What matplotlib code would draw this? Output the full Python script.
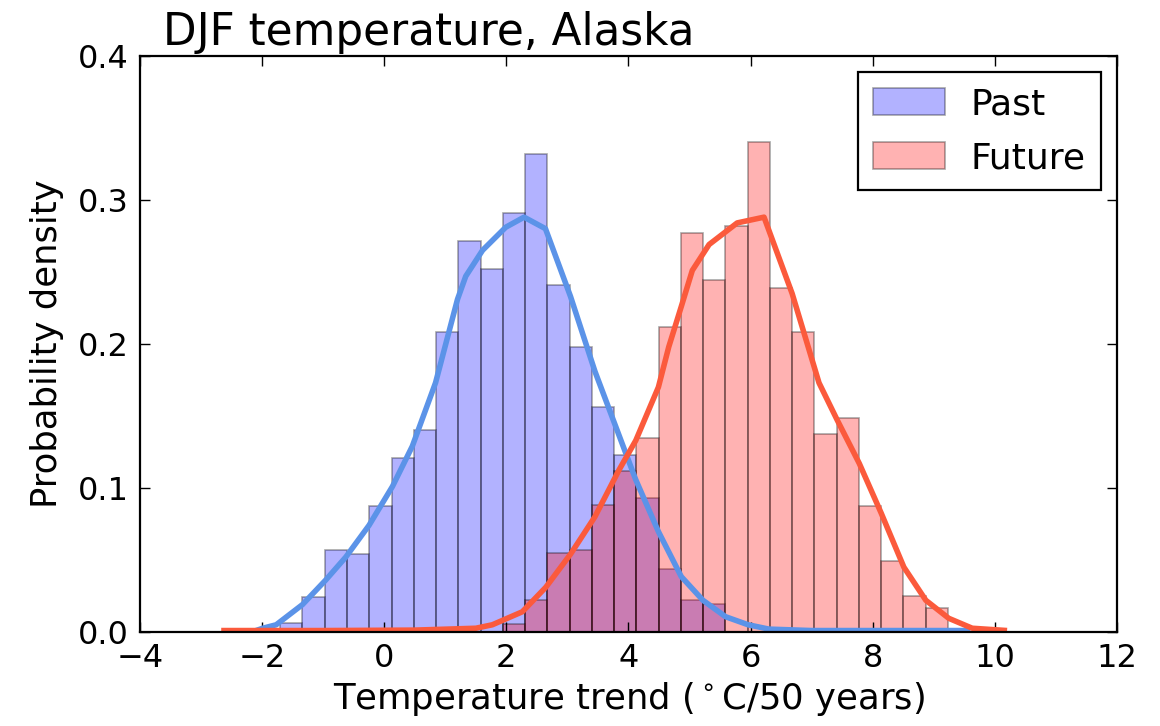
#!/usr/bin/env python3
import numpy as np
import matplotlib
matplotlib.use("Agg")
import matplotlib.pyplot as plt

# histogram bins (same width for both sets)
bin_width = 0.3645
past_first_edge = -1.7035
future_first_edge = 1.9415

past_density = [0.006, 0.0245, 0.057, 0.054, 0.0875, 0.1206, 0.140, 0.208,
                0.2715, 0.252, 0.2907, 0.332, 0.241, 0.198, 0.156, 0.123,
                0.093, 0.044, 0.022, 0.0194]
future_density = [0.0056, 0.022, 0.0546, 0.057, 0.088, 0.112, 0.1345, 0.2116,
                  0.277, 0.2444, 0.282, 0.3405, 0.239, 0.2086, 0.1375, 0.1484,
                  0.0875, 0.0495, 0.025, 0.0164]

# smoothed density curves
past_kde_x = [-2.1, -1.99, -1.77, -1.34, -0.96, -0.63, -0.25, 0.134, 0.46,
              0.84, 1.20, 1.335, 1.61, 1.99, 2.29, 2.64, 3.05, 3.45, 3.85,
              4.12, 4.49, 4.865, 5.22, 5.59, 5.96, 6.3, 7.0, 8.0, 9.6]
past_kde_y = [0.001, 0.0026, 0.005, 0.019, 0.036, 0.052, 0.074, 0.101, 0.129,
              0.173, 0.231, 0.247, 0.265, 0.281, 0.288, 0.280, 0.233, 0.181,
              0.136, 0.1056, 0.0697, 0.0384, 0.022, 0.0106, 0.005, 0.002,
              0.001, 0.001, 0.001]
future_kde_x = [-2.67, -1.0, 0.5, 1.5, 1.77, 2.26, 2.645, 3.05, 3.45, 3.845,
                4.12, 4.49, 4.66, 4.865, 5.045, 5.32, 5.78, 6.22, 6.68, 7.12,
                7.42, 7.78, 8.14, 8.51, 8.87, 9.245, 9.63, 10.2]
future_kde_y = [0.001, 0.001, 0.0013, 0.0026, 0.005, 0.014, 0.031, 0.054,
                0.080, 0.1125, 0.133, 0.170, 0.198, 0.226, 0.251, 0.269,
                0.284, 0.288, 0.235, 0.173, 0.147, 0.117, 0.0824, 0.045,
                0.022, 0.0095, 0.0026, 0.001]

fig = plt.figure(figsize=(11.6, 7.26), dpi=100)
ax = fig.add_axes([0.1207, 0.1295, 0.8422, 0.7936])

past_edges = past_first_edge + bin_width * np.arange(len(past_density))
future_edges = future_first_edge + bin_width * np.arange(len(future_density))

ax.bar(past_edges, past_density, width=bin_width, align="edge",
       color=(0, 0, 1, 0.3), edgecolor=(0, 0, 0, 0.35), linewidth=1.2,
       label="Past")
ax.bar(future_edges, future_density, width=bin_width, align="edge",
       color=(1, 0, 0, 0.3), edgecolor=(0, 0, 0, 0.35), linewidth=1.2,
       label="Future")

ax.plot(past_kde_x, past_kde_y, color="#5b93e8", linewidth=4,
        solid_capstyle="butt")
ax.plot(future_kde_x, future_kde_y, color="#fb5a3c", linewidth=4,
        solid_capstyle="butt")

ax.set_xlim(-4, 12)
ax.set_ylim(0, 0.4)
ax.set_xticks(range(-4, 13, 2))
ax.set_yticks([0.0, 0.1, 0.2, 0.3, 0.4])
ax.set_xticklabels(["\u22124", "\u22122", "0", "2", "4", "6", "8", "10", "12"])
ax.tick_params(direction="in", length=7, width=1, labelsize=23,
               top=True, right=True, pad=8)
for spine in ax.spines.values():
    spine.set_linewidth(1.6)

ax.set_xlabel("Temperature trend ($^\\circ$C/50 years)", fontsize=25.5,
              labelpad=4)
ax.set_ylabel("Probability density", fontsize=25.5, labelpad=10)
ax.text(0.0235, 1.019, "DJF temperature, Alaska", transform=ax.transAxes,
        fontsize=31.5, ha="left", va="baseline")

leg = ax.legend(loc="upper right", fontsize=26, fancybox=False,
                borderaxespad=0.45, handlelength=2.0, handleheight=0.75,
                borderpad=0.42, labelspacing=0.55, handletextpad=0.7)
leg.get_frame().set_edgecolor("black")
leg.get_frame().set_linewidth(1.6)
leg.get_frame().set_alpha(None)

fig.savefig("out.png", dpi=100)
